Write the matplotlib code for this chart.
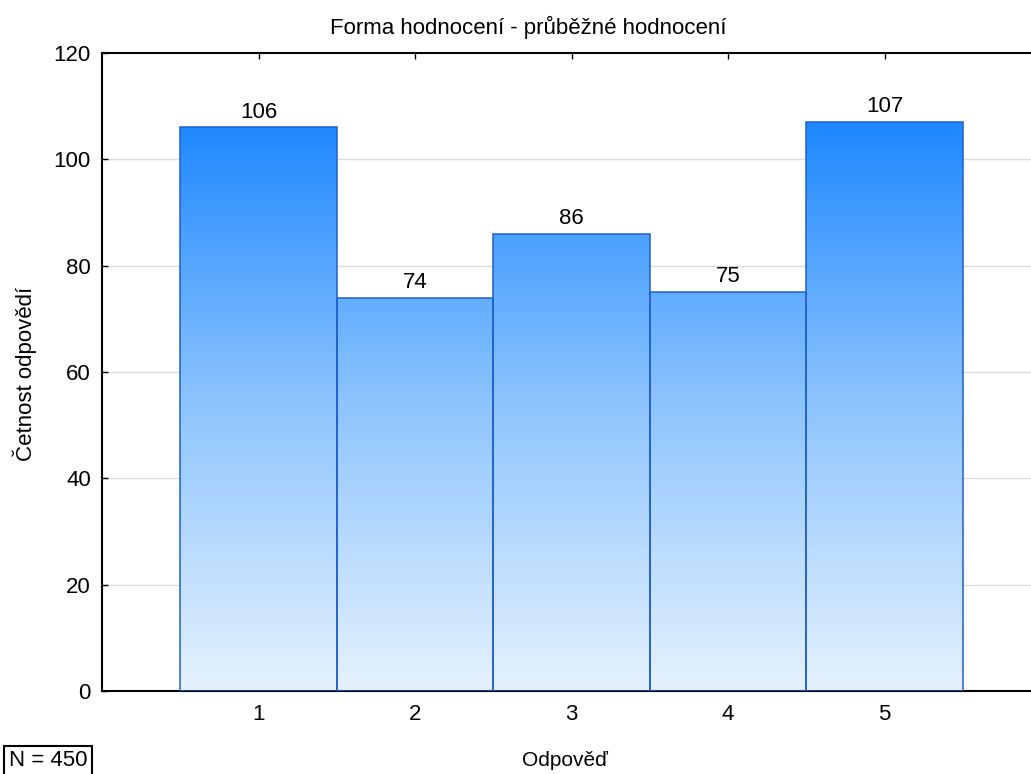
import matplotlib
matplotlib.use("Agg")
import matplotlib.pyplot as plt
import numpy as np
from matplotlib.colors import LinearSegmentedColormap

plt.rcParams['font.family'] = ['Liberation Sans', 'DejaVu Sans']

categories = [1, 2, 3, 4, 5]
counts = [106, 74, 86, 75, 107]
y_ticks = [0, 20, 40, 60, 80, 100, 120]
title = "Forma hodnocení - průběžné hodnocení"
x_label = "Odpověď"
y_label = "Četnost odpovědí"
n_total = 450

W, H = 1031, 774
fig = plt.figure(figsize=(W / 100, H / 100), dpi=100)
left, right, top, bottom = 102, 1031, 53, 691
ax = fig.add_axes([left / W, 1 - bottom / H, (right - left) / W, (bottom - top) / H])

ax.set_xlim(0, 5.935)
ax.set_ylim(0, 120)

grad_cmap = LinearSegmentedColormap.from_list(
    "bluegrad", ["#e6f2fe", "#8ec5fd", "#1e88ff"])
ymax_grad = max(counts)
grad = np.linspace(0, 1, 256).reshape(-1, 1)

for yt in y_ticks[1:-1]:
    ax.axhline(yt, color="#dcdcdc", lw=1.0, zorder=0)

bars = ax.bar(categories, counts, width=1.0, color="none",
              edgecolor="#1f5fd0", linewidth=1.1, zorder=3)
for bar, c in zip(bars, counts):
    x0 = bar.get_x()
    im = ax.imshow(grad, cmap=grad_cmap, origin="lower", aspect="auto",
                   extent=[x0, x0 + bar.get_width(), 0, ymax_grad],
                   interpolation="bilinear", zorder=2)
    im.set_clip_path(bar)
    ax.text(bar.get_x() + bar.get_width() / 2, c + 0.9, str(c),
            ha="center", va="bottom", fontsize=16, zorder=4)

ax.set_xticks(categories)
ax.set_yticks(y_ticks)
ax.tick_params(axis="both", direction="in", length=4, width=1, labelsize=16,
               top=True, right=False)
ax.tick_params(axis="y", pad=8)
ax.tick_params(axis="x", pad=9)
for side in ["left", "bottom", "top"]:
    ax.spines[side].set_linewidth(1.5)
ax.spines["right"].set_visible(False)

fig.text(528 / W, 1 - 27 / H, title, ha="center", va="center", fontsize=16)
fig.text(565 / W, 1 - 760 / H, x_label, ha="center", va="center", fontsize=15)
fig.text(25 / W, 1 - 374 / H, y_label, ha="center", va="center",
         rotation=90, fontsize=16)
fig.text(9 / W, 1 - 761 / H, f"N = {n_total}", ha="left", va="center",
         fontsize=16,
         bbox=dict(boxstyle="square,pad=0.22", fc="white", ec="black", lw=1.5))

fig.savefig("out.png", dpi=100)
